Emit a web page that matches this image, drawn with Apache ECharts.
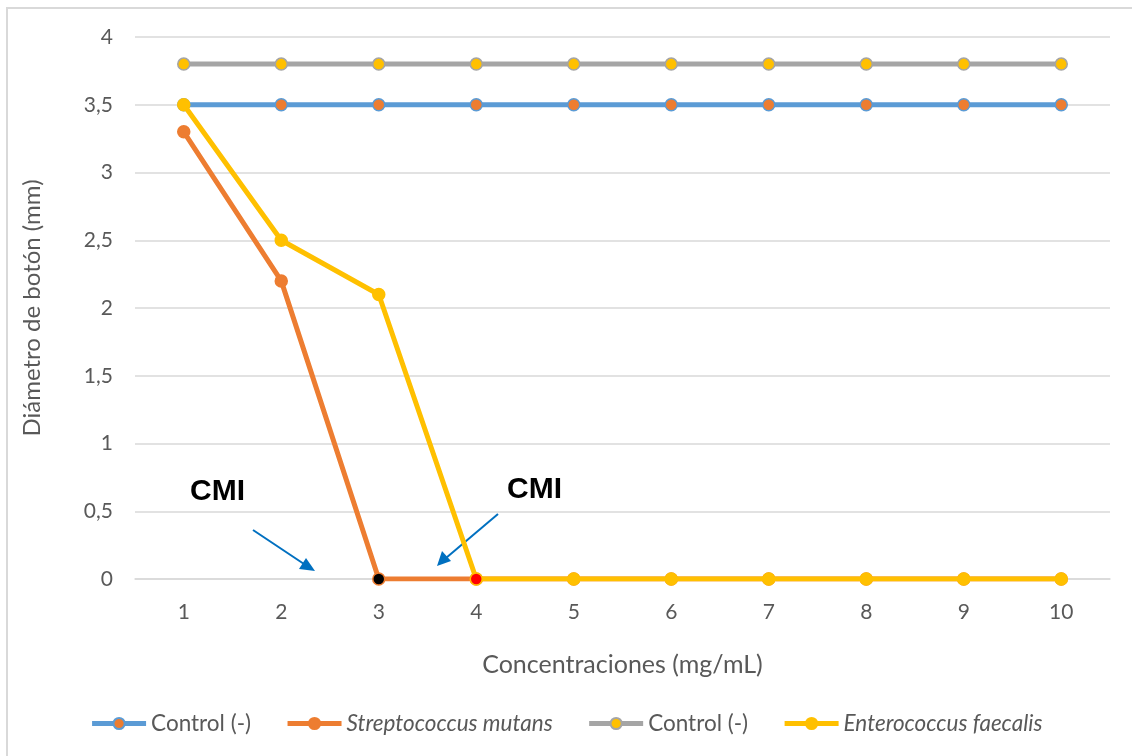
<!DOCTYPE html>
<html><head><meta charset="utf-8">
<script src="https://cdn.jsdelivr.net/npm/echarts@6/dist/echarts.min.js"></script>
<style>html,body{margin:0;padding:0;background:#fff}#c{width:1132px;height:756px}</style>
</head><body><div id="c"></div>
<script>
const categories = ['1','2','3','4','5','6','7','8','9','10'];
const controlBlue = [3.5,3.5,3.5,3.5,3.5,3.5,3.5,3.5,3.5,3.5];
const sMutans = [3.3,2.2,0,0,0,0,0,0,0,0];
const controlGray = [3.8,3.8,3.8,3.8,3.8,3.8,3.8,3.8,3.8,3.8];
const eFaecalis = [3.5,2.5,2.1,0,0,0,0,0,0,0];
const seriesNames = ['Control (-)','Streptococcus mutans','Control (-) ','Enterococcus faecalis'];

const FONT = 'Lato, "Open Sans", sans-serif';
const chart = echarts.init(document.getElementById('c'));

function mk(name, data, lineColor, fill, border, z, special) {
  return {
    name, type: 'line', z,
    data: data.map((v, i) => special && special[i] ? {value: v, itemStyle: special[i]} : v),
    symbol: 'circle', symbolSize: 12, showSymbol: true,
    lineStyle: {color: lineColor, width: 5},
    itemStyle: {color: fill, borderColor: border, borderWidth: 1.5},
    emphasis: {disabled: true}, animation: false
  };
}

chart.setOption({
  animation: false,
  grid: {left: 135, right: 22, top: 37, bottom: 177, containLabel: false},
  xAxis: {
    type: 'category', data: categories, boundaryGap: true,
    axisLine: {show: true, lineStyle: {color: '#d9d9d9', width: 1.5}},
    axisTick: {show: false},
    axisLabel: {color: '#595959', fontSize: 21, fontFamily: FONT, margin: 23},
    name: 'Concentraciones (mg/mL)', nameLocation: 'middle', nameGap: 73,
    nameTextStyle: {color: '#595959', fontSize: 25, fontFamily: FONT}
  },
  yAxis: {
    type: 'value', min: 0, max: 4, interval: 0.5,
    axisLine: {show: false}, axisTick: {show: false},
    splitLine: {lineStyle: {color: '#d9d9d9', width: 1.5}},
    axisLabel: {color: '#595959', fontSize: 21, fontFamily: FONT, margin: 22,
      formatter: v => String(v).replace('.', ',')},
    name: 'Diámetro de botón (mm)', nameLocation: 'middle', nameGap: 91, nameRotate: 90,
    nameTextStyle: {color: '#595959', fontSize: 24, fontFamily: FONT}
  },
  legend: {
    bottom: 16, left: 'center', itemGap: 34, itemWidth: 54, itemHeight: 14,
    data: seriesNames,
    lineStyle: {width: 5},
    textStyle: {color: '#595959', fontSize: 22.5, fontFamily: FONT,
      rich: {i: {fontStyle: 'italic', color: '#595959', fontSize: 22.5, fontFamily: FONT}}},
    formatter: n => n.indexOf('Control') === 0 ? n.trim() : '{i|' + n + '}'
  },
  series: [
    mk(seriesNames[2], controlGray, '#a5a5a5', '#ffc000', '#a5a5a5', 2),
    mk(seriesNames[0], controlBlue, '#5b9bd5', '#ed7d31', '#5b9bd5', 3),
    mk(seriesNames[1], sMutans, '#ed7d31', '#ed7d31', '#ed7d31', 4, {2: {color: '#000000', borderColor: '#ed7d31'}}),
    mk(seriesNames[3], eFaecalis, '#ffc000', '#ffc000', '#ffc000', 5, {3: {color: '#ff0000', borderColor: '#ffc000'}})
  ],
  graphic: [
    {type: 'rect', shape: {x: 7, y: 8, width: 1140, height: 760}, style: {fill: 'none', stroke: '#d9d9d9', lineWidth: 2}, silent: true},
    {type: 'text', left: 190, top: 477, style: {text: 'CMI', font: 'bold 30px "Liberation Sans", Arial, sans-serif', fill: '#000'}},
    {type: 'text', left: 507, top: 475, style: {text: 'CMI', font: 'bold 30px "Liberation Sans", Arial, sans-serif', fill: '#000'}},
    {type: 'line', shape: {x1: 253, y1: 530, x2: 304, y2: 564}, style: {stroke: '#0070c0', lineWidth: 2}},
    {type: 'polygon', shape: {points: [[315, 571], [299, 569], [306, 558]]}, style: {fill: '#0070c0'}},
    {type: 'line', shape: {x1: 498, y1: 514, x2: 446, y2: 558}, style: {stroke: '#0070c0', lineWidth: 2}},
    {type: 'polygon', shape: {points: [[437, 566], [442, 551], [451, 561]]}, style: {fill: '#0070c0'}}
  ]
});
</script></body></html>
